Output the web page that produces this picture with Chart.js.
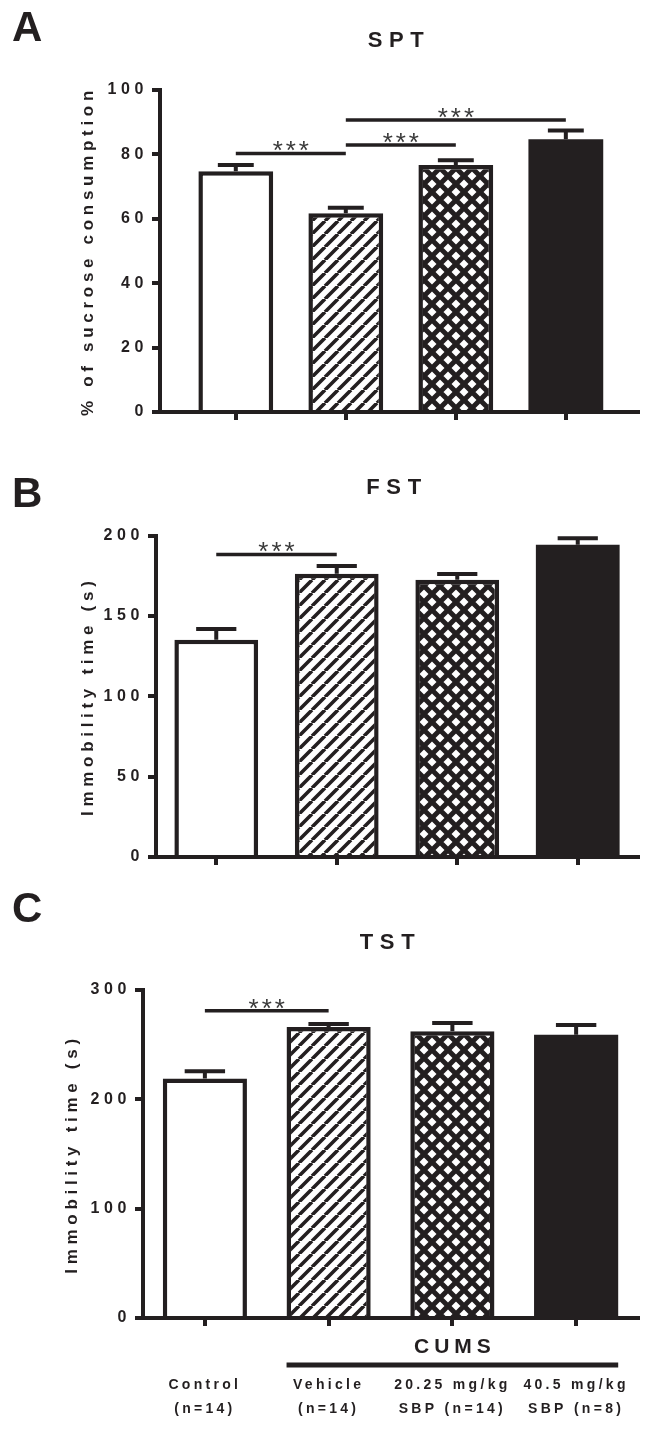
<!DOCTYPE html>
<html>
<head>
<meta charset="utf-8">
<script src="https://cdn.jsdelivr.net/npm/chart.js@4.4.0/dist/chart.umd.min.js"></script>
<style>
  body { margin: 0; background: #fff; }
  #page { position: relative; width: 653px; height: 1429px; overflow: hidden; background: #fff; }
  canvas { position: absolute; left: 0; }
  .panel { position: absolute; left: 12px; font: bold 42px 'Liberation Sans', Arial, sans-serif; line-height: 42px; color: #231f20; }
</style>
</head>
<body>
<div id="page">
  <canvas id="sptChart" width="653" height="450" style="top:0"></canvas>
  <canvas id="fstChart" width="653" height="440" style="top:450px"></canvas>
  <canvas id="tstChart" width="653" height="539" style="top:890px"></canvas>
  <div class="panel" style="top:6px">A</div>
  <div class="panel" style="top:472px">B</div>
  <div class="panel" style="top:887px">C</div>
</div>
<script>
// groups (same order in every panel)
const groups = ['Control', 'Vehicle', '20.25 mg/kg SBP', '40.5 mg/kg SBP'];
const groupLabels = [
  ['Control', '(n=14)'],
  ['Vehicle', '(n=14)'],
  ['20.25 mg/kg', 'SBP (n=14)'],
  ['40.5 mg/kg', 'SBP (n=8)']
];

// SPT - % of sucrose consumption, mean + SEM
const sptMean = [74.8, 61.7, 76.7, 84.7];
const sptSem = [1.9, 1.7, 1.5, 2.7];
const sptTicks = [0, 20, 40, 60, 80, 100];
// brackets: [group a, group b, height]
const sptSig = [[0, 1, 80.3], [1, 2, 82.9], [1, 3, 90.7]];

// FST - immobility time (s)
const fstMean = [135.1, 176.2, 172.4, 194.2];
const fstSem = [6.7, 4.9, 3.6, 4.1];
const fstTicks = [0, 50, 100, 150, 200];
const fstSig = [[0, 1, 188.2]];

// TST - immobility time (s)
const tstMean = [219.1, 266.1, 262.2, 259.0];
const tstSem = [6.7, 2.8, 7.7, 9.1];
const tstTicks = [0, 100, 200, 300];
const tstSig = [[0, 1, 281]];

const INK = '#231f20';
const FONT = "'Liberation Sans', Arial, sans-serif";
Chart.defaults.font.family = FONT;
Chart.defaults.color = INK;

function stripes() {
  const n = 13;
  const c = document.createElement('canvas');
  c.width = c.height = n;
  const g = c.getContext('2d');
  g.fillStyle = '#fff';
  g.fillRect(0, 0, n, n);
  g.strokeStyle = INK;
  g.lineWidth = 3.6;
  g.beginPath();
  for (const o of [-n, 0, n]) { g.moveTo(o, n); g.lineTo(o + n, 0); }
  g.stroke();
  return g.createPattern(c, 'repeat');
}

function crosshatch() {
  const n = 16;
  const c = document.createElement('canvas');
  c.width = c.height = n;
  const g = c.getContext('2d');
  g.fillStyle = '#fff';
  g.fillRect(0, 0, n, n);
  g.strokeStyle = INK;
  g.lineWidth = 5;
  g.beginPath();
  for (const o of [-n, 0, n]) {
    g.moveTo(o, 0); g.lineTo(o + n, n);
    g.moveTo(o, n); g.lineTo(o + n, 0);
  }
  g.stroke();
  return g.createPattern(c, 'repeat');
}

const fills = ['#ffffff', stripes(), crosshatch(), INK];

// letter spacing per text kind (canvas letterSpacing)
const spacing = {
  id: 'spacing',
  beforeDraw(chart, args, opts) {
    const wrap = (obj, name, px) => {
      if (!obj || obj['_sp_' + name]) return;
      const orig = obj[name];
      obj[name] = function (...a) {
        const ctx = chart.ctx;
        const prev = ctx.letterSpacing;
        ctx.letterSpacing = px + 'px';
        const r = orig.apply(this, a);
        ctx.letterSpacing = prev;
        return r;
      };
      obj['_sp_' + name] = true;
    };
    wrap(chart.scales.x, 'drawLabels', opts.xTicks);
    wrap(chart.scales.y, 'drawLabels', opts.yTicks);
    wrap(chart.scales.y, 'drawTitle', opts.yTitle);
    wrap(chart.titleBlock, 'draw', opts.title);
  }
};

// error bars (mean + SEM), significance lines, CUMS bracket
const extras = {
  id: 'extras',
  afterDatasetsDraw(chart, args, opts) {
    const { ctx, scales: { x, y }, chartArea } = chart;
    const bars = chart.getDatasetMeta(0).data;
    ctx.save();
    ctx.strokeStyle = INK;
    ctx.fillStyle = INK;
    ctx.lineWidth = 4;
    bars.forEach((bar, i) => {
      const top = y.getPixelForValue(opts.mean[i] + opts.sem[i]);
      const half = bar.width * 0.24;
      ctx.beginPath();
      ctx.moveTo(bar.x, bar.y);
      ctx.lineTo(bar.x, top);
      ctx.moveTo(bar.x - half, top);
      ctx.lineTo(bar.x + half, top);
      ctx.stroke();
    });

    ctx.lineWidth = 3.5;
    opts.sig.forEach(([a, b, h]) => {
      const py = y.getPixelForValue(h);
      const x1 = x.getPixelForValue(a);
      const x2 = x.getPixelForValue(b);
      ctx.beginPath();
      ctx.moveTo(x1, py);
      ctx.lineTo(x2, py);
      ctx.stroke();
      ctx.save();
      ctx.font = '26px ' + FONT;
      ctx.fillStyle = '#3a3a3a';
      ctx.letterSpacing = '3px';
      ctx.textAlign = 'center';
      ctx.textBaseline = 'alphabetic';
      ctx.fillText('***', (x1 + x2) / 2 + 1.5, py + 6);
      ctx.restore();
    });

    if (opts.group) {
      const g = opts.group;
      const b1 = bars[g.from], b2 = bars[g.to];
      const x1 = b1.x - b1.width / 2, x2 = b2.x + b2.width / 2;
      const ly = chartArea.bottom + 47;
      ctx.lineWidth = 5;
      ctx.beginPath();
      ctx.moveTo(x1, ly);
      ctx.lineTo(x2, ly);
      ctx.stroke();
      ctx.font = 'bold 21px ' + FONT;
      ctx.letterSpacing = '5px';
      ctx.textAlign = 'center';
      ctx.textBaseline = 'middle';
      ctx.fillText(g.text, (x1 + x2) / 2 + 2.5, chartArea.bottom + 29.5);
    }
    ctx.restore();
  }
};

function build(id, p) {
  const lineStyle = { offset: false, drawOnChartArea: false, drawTicks: true, tickLength: 8, lineWidth: 4, color: INK };
  const border = { display: true, width: 4, color: INK, z: 1 };
  return new Chart(document.getElementById(id), {
    type: 'bar',
    data: {
      datasets: [{
        label: p.title,
        data: p.mean.map((v, i) => ({ x: i, y: v })),
        backgroundColor: fills,
        borderColor: INK,
        borderWidth: [4.5, 4.5, 4.5, 0],
        barPercentage: p.barPct,
        categoryPercentage: 1
      }]
    },
    options: {
      responsive: false,
      animation: false,
      devicePixelRatio: 1,
      layout: { padding: { left: 0, right: 15, top: 0, bottom: 0 } },
      plugins: {
        legend: { display: false },
        tooltip: { enabled: false },
        title: {
          display: true, text: p.title, fullSize: false, color: INK,
          font: { size: 22, weight: 'bold', lineHeight: 1.2 },
          padding: { top: p.titleTop, bottom: p.titleBottom }
        },
        spacing: { xTicks: 3.3, yTicks: 4.6, yTitle: 4.7, title: 6.6 },
        extras: { mean: p.mean, sem: p.sem, sig: p.sig, group: p.group }
      },
      scales: {
        x: {
          type: 'linear', min: p.xMin, max: p.xMax, offset: false,
          afterBuildTicks: s => { s.ticks = p.mean.map((_, i) => ({ value: i })); },
          afterFit: s => { s.height = p.xHeight; s.paddingLeft = 0; s.paddingRight = 0; },
          grid: lineStyle,
          border: border,
          ticks: {
            display: !!p.xLabels,
            autoSkip: false, maxRotation: 0,
            callback: v => (p.xLabels ? p.xLabels[v] : ''),
            font: { size: 14, weight: 'bold', lineHeight: 1.75 },
            color: INK,
            padding: 46.75
          }
        },
        y: {
          min: 0, max: p.yMax,
          afterBuildTicks: s => { s.ticks = p.yTicks.map(v => ({ value: v })); },
          afterFit: s => { s.width = p.left; },
          grid: lineStyle,
          border: border,
          ticks: { font: { size: 16, weight: 'bold' }, color: INK, padding: 4 },
          title: {
            display: true, text: p.yTitle, color: INK,
            font: { size: 17, weight: 'bold', lineHeight: 1.2 },
            padding: { top: p.yTitlePad, bottom: 0 }
          }
        }
      }
    },
    plugins: [spacing, extras]
  });
}

build('sptChart', {
  title: 'SPT', yTitle: '% of sucrose consumption',
  mean: sptMean, sem: sptSem, sig: sptSig, yTicks: sptTicks, yMax: 100,
  left: 160, xMin: -0.689, xMax: 3.656, barPct: 0.68, xHeight: 38,
  titleTop: 27.8, titleBottom: 35.8, yTitlePad: 77.8
});

build('fstChart', {
  title: 'FST', yTitle: 'Immobility time (s)',
  mean: fstMean, sem: fstSem, sig: fstSig, yTicks: fstTicks, yMax: 200,
  left: 156, xMin: -0.5, xMax: 3.5, barPct: 0.695, xHeight: 33,
  titleTop: 24.3, titleBottom: 34.8, yTitlePad: 77.8
});

build('tstChart', {
  title: 'TST', yTitle: 'Immobility time (s)',
  mean: tstMean, sem: tstSem, sig: tstSig, yTicks: tstTicks, yMax: 300,
  left: 143, xMin: -0.5, xMax: 3.5, barPct: 0.68, xHeight: 111,
  titleTop: 39.8, titleBottom: 33.8, yTitlePad: 61.8,
  xLabels: groupLabels, group: { text: 'CUMS', from: 1, to: 3 }
});
</script>
</body>
</html>
